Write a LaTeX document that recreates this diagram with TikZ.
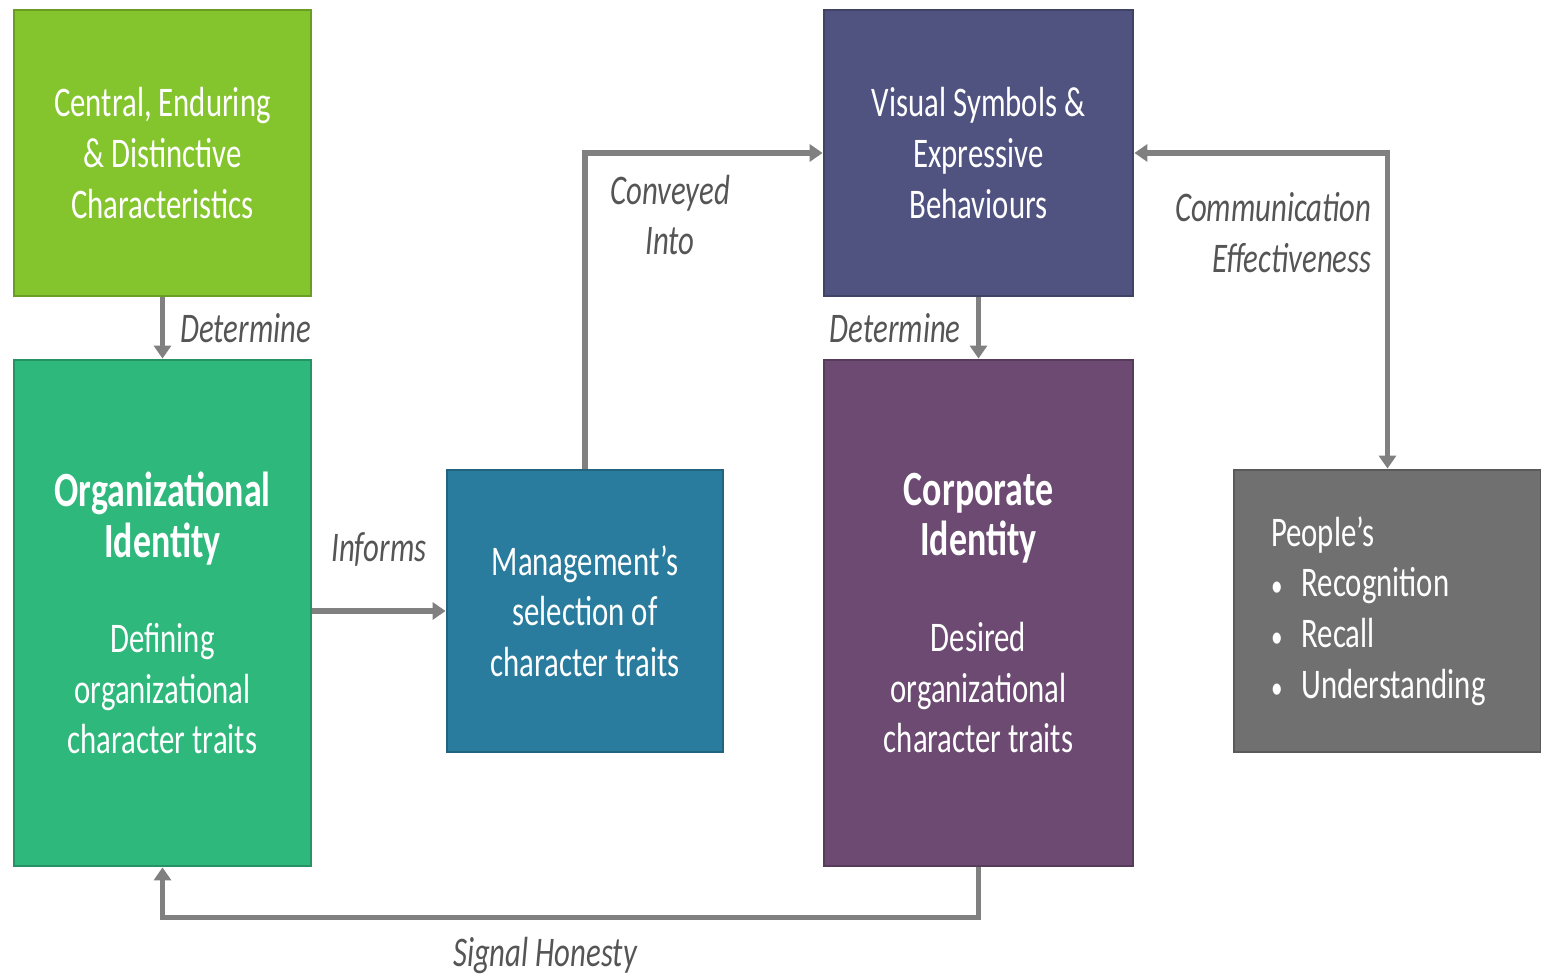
\documentclass[tikz,border=0pt]{standalone}
\usepackage{fontspec}
\setmainfont[FakeStretch=0.73]{Carlito}
\usetikzlibrary{arrows.meta}
\definecolor{cenc}{RGB}{132,196,44}
\definecolor{orgc}{RGB}{46,184,124}
\definecolor{mgtc}{RGB}{42,124,158}
\definecolor{visc}{RGB}{80,82,128}
\definecolor{corpc}{RGB}{108,74,114}
\definecolor{pplc}{RGB}{112,112,112}
\definecolor{arrc}{RGB}{128,128,128}
\definecolor{lblc}{RGB}{85,85,85}
\tikzset{
  box/.style={draw=#1!80!black, fill=#1, line width=0.8pt, text=white, align=center, inner sep=0pt,
    font=\fontsize{12}{14.4}\selectfont},
  lbl/.style={text=lblc, font=\fontsize{12}{14.4}\selectfont\itshape, align=center},
  arr/.style={-{Triangle[length=1.3mm,width=1.7mm]}, draw=arrc, line width=1.5pt},
}
\newcommand{\boxhead}{\fontsize{14}{15.6}\selectfont\bfseries}
\newcommand{\bul}{{\small\textbullet}\hspace{0.45em}}
\begin{document}
\begin{tikzpicture}
\useasboundingbox (0,0) rectangle (15.41,-9.74);
\node[box=cenc, minimum width=2.97cm, minimum height=2.86cm] (CEN) at (1.625,-1.53) {Central, Enduring\\\& Distinctive\\Characteristics};
\node[box=orgc, minimum width=2.97cm, minimum height=5.06cm] (ORG) at (1.625,-6.13) {{\boxhead Organizational}\\{\boxhead Identity}\\[0.45cm]Defining\\organizational\\character traits};
\node[box=mgtc, minimum width=2.76cm, minimum height=2.82cm] (MGT) at (5.85,-6.11) {Management's\\selection of\\character traits};
\node[box=visc, minimum width=3.09cm, minimum height=2.86cm] (VIS) at (9.785,-1.53) {Visual Symbols \&\\Expressive\\Behaviours};
\node[box=corpc, minimum width=3.09cm, minimum height=5.06cm] (CORP) at (9.785,-6.13) {{\boxhead Corporate}\\{\boxhead Identity}\\[0.45cm]Desired\\organizational\\character traits};
\node[box=pplc, minimum width=3.07cm, minimum height=2.82cm, align=left, text width=2.33cm, inner xsep=0.37cm] (PPL) at (13.875,-6.11) {People's\\\bul Recognition\\\bul Recall\\\bul Understanding};
% connectors
\draw[arr] (CEN) -- node[lbl, right, xshift=1pt] (DET1) {Determine} (ORG);
\draw[arr] (ORG.east |- MGT) -- node[lbl, above=0.3cm] (INF) {Informs} (MGT);
\draw[arr] (MGT.north) |- (VIS.west);
\node[lbl] (CONV) at (6.7,-2.15) {Conveyed\\Into};
\draw[arr] (VIS) -- node[lbl, left, xshift=-1pt] (DET2) {Determine} (CORP);
\draw[arr, {Triangle[length=1.3mm,width=1.7mm]}-{Triangle[length=1.3mm,width=1.7mm]}] (VIS.east) -| (PPL.north);
\node[lbl, align=right, anchor=north east] (COMM) at (13.84,-1.8) {Communication\\Effectiveness};
\draw[arr] (CORP.south) -- ++(0,-0.5) -| (ORG.south);
\node[lbl] (SIG) at (5.45,-9.55) {Signal Honesty};
\end{tikzpicture}
\end{document}
